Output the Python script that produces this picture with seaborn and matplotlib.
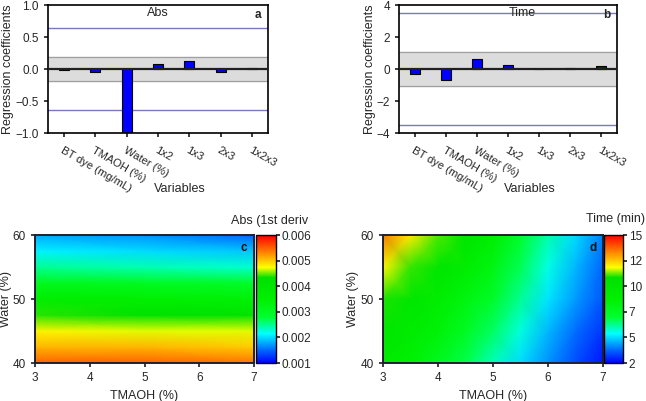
import matplotlib
matplotlib.use("Agg")
import matplotlib.pyplot as plt
import numpy as np
import seaborn as sns
from matplotlib.colors import LinearSegmentedColormap

W, H = 646, 401

# Regression coefficient data
variables = ["BT dye (mg/mL)", "TMAOH (%)", "Water (%)", "1x2", "1x3", "2x3", "1x2x3"]
abs_coef = [-0.02, -0.04, -1.02, 0.08, 0.13, -0.05, 0.01]
time_coef = [-0.3, -0.7, 0.6, 0.25, 0.0, 0.05, 0.18]
abs_band = 0.19
abs_limit = 0.64
time_band = 1.04
time_limit = 3.5

# Response surfaces
tmaoh_c = [3, 5, 7]
water_c = [40, 42.5, 45, 47.5, 50, 52.5, 55, 57.5, 60]
abs_surface = [
    [0.0055, 0.0055, 0.0054],
    [0.0051, 0.0051, 0.0050],
    [0.0048, 0.0047, 0.0047],
    [0.0044, 0.0043, 0.0042],
    [0.0036, 0.0035, 0.0034],
    [0.0031, 0.0030, 0.0029],
    [0.0025, 0.0024, 0.0023],
    [0.0021, 0.0020, 0.0019],
    [0.0018, 0.0017, 0.0015],
]
tmaoh_d = [3, 3.5, 4, 4.5, 5, 5.5, 6, 6.5, 7]
water_d = [40, 45, 50, 55, 60]
time_surface = [
    [9.2, 8.4, 7.4, 6.5, 5.6, 4.6, 3.8, 3.0, 2.3],
    [9.9, 9.1, 8.2, 7.2, 6.3, 5.3, 4.2, 3.4, 2.7],
    [10.8, 9.8, 8.9, 7.9, 7.0, 5.9, 4.7, 3.9, 3.1],
    [11.9, 10.9, 9.9, 8.9, 7.8, 6.4, 5.2, 4.2, 3.3],
    [13.4, 12.0, 11.0, 10.0, 8.6, 6.9, 5.7, 4.6, 3.6],
]

sns.set_theme(style="ticks")
plt.rcParams["font.family"] = ["Liberation Sans", "DejaVu Sans"]
plt.rcParams["font.size"] = 8
plt.rcParams["axes.linewidth"] = 1.2
plt.rcParams["xtick.major.size"] = 3
plt.rcParams["ytick.major.size"] = 3

fig = plt.figure(figsize=(W / 100, H / 100), dpi=100)
fig.patch.set_facecolor("white")


def ax_px(l, t, r, b):
    return fig.add_axes([l / W, 1 - b / H, (r - l) / W, (b - t) / H])


cmap = LinearSegmentedColormap.from_list(
    "rainbow_origin",
    [
        (0.0, "#0000ff"),
        (0.1, "#0066ff"),
        (0.23, "#00ffff"),
        (0.36, "#00ff30"),
        (0.5, "#00f000"),
        (0.67, "#00e000"),
        (0.75, "#ffff00"),
        (0.87, "#ff8000"),
        (1.0, "#ff0000"),
    ],
)


def bar_panel(ax, coefs, band, limit, yticks, title, title_x, letter):
    ax.axhspan(-band, band, color="#dcdcdc", zorder=0)
    ax.axhline(band, color="#a0a0a0", lw=0.9, zorder=1)
    ax.axhline(-band, color="#a0a0a0", lw=0.9, zorder=1)
    ax.axhline(limit, color="#7878c0", lw=1.0, zorder=1)
    ax.axhline(-limit, color="#7878c0", lw=1.0, zorder=1)
    sns.barplot(
        x=variables, y=coefs, ax=ax, color="#0000ff", saturation=1,
        edgecolor="black", linewidth=0.8, width=0.32, zorder=2,
    )
    ax.axhline(0, color="#202020", lw=1.6, zorder=3)
    ax.set_xlim(-0.5, len(variables) - 0.5)
    ax.set_ylim(yticks[0], yticks[-1])
    ax.set_yticks(yticks)
    ax.set_xticks(range(len(variables)))
    ax.set_xticklabels(variables, rotation=-30, ha="left", rotation_mode="anchor")
    ax.tick_params(axis="x", pad=6, labelsize=8)
    ax.tick_params(axis="y", labelsize=8.5)
    ax.set_ylabel("Regression coefficients", fontsize=9)
    ax.set_xlabel("Variables", fontsize=9)
    ax.xaxis.set_label_coords(0.6, -0.39)
    for s in ax.spines.values():
        s.set_visible(True)
        s.set_color("black")
    ax.text(title_x, 0.94, title, transform=ax.transAxes, ha="center", va="center", fontsize=9)
    ax.text(0.955, 0.92, letter, transform=ax.transAxes, ha="center", va="center",
            fontsize=8.5, fontweight="bold")


ax_a = ax_px(48, 5, 268, 133)
bar_panel(ax_a, abs_coef, abs_band, abs_limit, [-1.0, -0.5, 0.0, 0.5, 1.0], "Abs", 0.5, "a")
ax_a.set_yticklabels(["\u22121.0", "\u22120.5", "0.0", "0.5", "1.0"])
ax_a.yaxis.set_label_coords(-0.155, 0.5)

ax_b = ax_px(399, 5, 617, 133)
bar_panel(ax_b, time_coef, time_band, time_limit, [-4, -2, 0, 2, 4], "Time", 0.564, "b")
ax_b.yaxis.set_label_coords(-0.105, 0.5)


def surface_panel(ax, cax, xs, ys, zs, vmin, vmax, fmt, letter):
    X, Y = np.meshgrid(xs, ys)
    mesh = ax.pcolormesh(X, Y, np.array(zs), shading="gouraud", cmap=cmap,
                         vmin=vmin, vmax=vmax, rasterized=True)
    ax.set_xlim(3, 7)
    ax.set_ylim(40, 60)
    ax.set_xticks([3, 4, 5, 6, 7])
    ax.set_yticks([40, 50, 60])
    ax.tick_params(labelsize=8.5, length=3)
    ax.set_xlabel("TMAOH (%)", fontsize=9)
    ax.set_ylabel("Water (%)", fontsize=9)
    for s in ax.spines.values():
        s.set_visible(True)
        s.set_color("#202030")
        s.set_linewidth(1.4)
    ax.text(0.955, 0.9, letter, transform=ax.transAxes, ha="center", va="center",
            fontsize=8.5, fontweight="bold", color="#101010")
    cb = fig.colorbar(mesh, cax=cax, ticks=np.linspace(vmin, vmax, 6), format=fmt)
    cb.outline.set_edgecolor("black")
    cb.outline.set_linewidth(1.0)
    cax.tick_params(labelsize=8.5, length=3, pad=1)
    return cb


ax_c = ax_px(35, 235, 254, 363)
cax_c = ax_px(256, 235, 276, 363)
surface_panel(ax_c, cax_c, tmaoh_c, water_c, abs_surface, 0.001, 0.006, "%.3f", "c")
ax_c.yaxis.set_label_coords(-0.105, 0.5)
fig.text(308 / W, 1 - 221 / H, "Abs (1st deriv", ha="right", va="center", fontsize=9)

ax_d = ax_px(383, 235, 603, 363)
cax_d = ax_px(604, 235, 623, 363)
surface_panel(ax_d, cax_d, tmaoh_d, water_d, time_surface, 2, 15, "%.0f", "d")
ax_d.yaxis.set_label_coords(-0.11, 0.5)
fig.text(645 / W, 1 - 219 / H, "Time (min)", ha="right", va="center", fontsize=9)

fig.savefig("out.png", dpi=100)
